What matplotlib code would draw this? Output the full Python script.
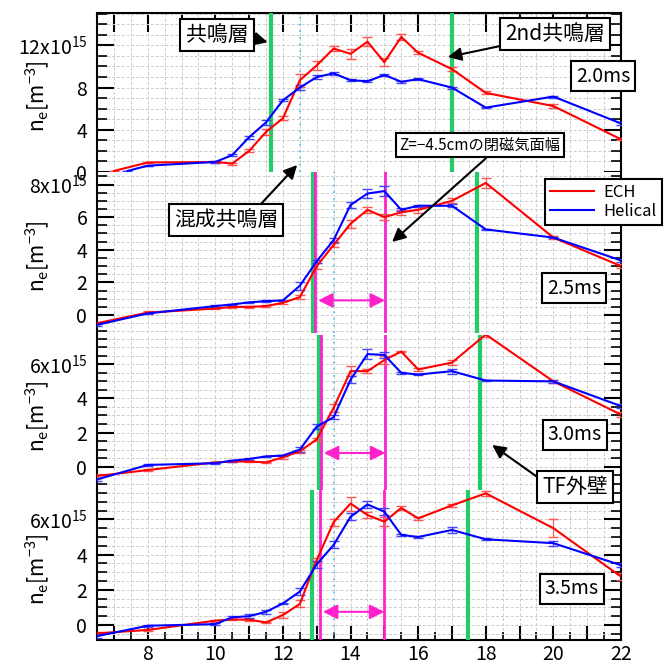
import numpy as np
import matplotlib
matplotlib.use("Agg")
import matplotlib.pyplot as plt
from matplotlib.lines import Line2D
from matplotlib.ticker import MultipleLocator, FixedLocator, FixedFormatter, FuncFormatter

plt.rcParams['font.family'] = ['Noto Sans CJK JP', 'DejaVu Sans']
plt.rcParams['mathtext.fontset'] = 'custom'
plt.rcParams['mathtext.rm'] = 'Noto Sans CJK JP'
plt.rcParams['mathtext.it'] = 'Noto Sans CJK JP'
plt.rcParams['mathtext.default'] = 'regular'

# radial position (cm)
r_pos = [6.5, 8, 10, 10.5, 11, 11.5, 12, 12.5, 13, 13.5, 14, 14.5, 15, 15.5, 16, 17, 18, 20, 22]
r_ech_20 = [7] + r_pos[1:]
r_hel_20 = [7.4] + r_pos[1:]

# density (10^15 m^-3)
ech_20 = [0.1, 0.9, 0.95, 0.8, 2.0, 3.8, 5.1, 8.7, 10.1, 11.7, 11.2, 12.35, 10.4, 12.8, 11.3, 9.75, 7.5, 6.25, 3.1]
hel_20 = [0.1, 0.6, 0.95, 1.6, 3.3, 4.7, 6.8, 8.0, 9.0, 9.35, 8.7, 8.6, 9.2, 8.55, 8.8, 8.0, 6.1, 7.15, 4.6]
ech_20_err = [0, 0.05, 0.05, 0.1, 0.15, 0.3, 0.2, 0.6, 0.4, 0.25, 0.45, 0.4, 0.4, 0.3, 0.15, 0.2, 0.15, 0.15, 0.1]
hel_20_err = [0, 0, 0.05, 0.1, 0.15, 0.2, 0.1, 0.2, 0.2, 0.15, 0.1, 0.1, 0.1, 0.1, 0.1, 0.1, 0.05, 0.1, 0.1]

ech_25 = [-0.5, 0.15, 0.4, 0.5, 0.5, 0.55, 0.75, 1.1, 3.0, 4.3, 5.6, 6.45, 6.0, 6.3, 6.45, 7.0, 8.1, 4.75, 3.0]
hel_25 = [-0.6, 0.1, 0.55, 0.65, 0.78, 0.85, 0.9, 1.8, 3.3, 4.6, 6.75, 7.45, 7.6, 6.45, 6.7, 6.7, 5.25, 4.75, 3.35]
ech_25_err = [0.05, 0.1, 0.05, 0.05, 0.05, 0.05, 0.1, 0.1, 0.2, 0.1, 0.25, 0.2, 0.2, 0.15, 0.2, 0.15, 0.3, 0.1, 0.1]
hel_25_err = [0.05, 0.05, 0.05, 0.05, 0.05, 0.05, 0.05, 0.25, 0.1, 0.1, 0.2, 0.3, 0.3, 0.1, 0.05, 0.1, 0.05, 0.05, 0.1]

ech_30 = [-0.55, -0.2, 0.25, 0.3, 0.3, 0.25, 0.55, 0.9, 1.6, 3.45, 5.6, 5.6, 6.25, 6.75, 5.7, 6.1, 7.75, 5.0, 3.05]
hel_30 = [-0.75, 0.1, 0.2, 0.35, 0.45, 0.6, 0.65, 1.0, 2.35, 2.9, 5.1, 6.6, 6.55, 5.5, 5.4, 5.6, 5.05, 5.0, 3.55]
ech_30_err = [0.1, 0.05, 0.05, 0.05, 0.05, 0.05, 0.1, 0.1, 0.1, 0.25, 0.3, 0.1, 0.25, 0.05, 0.1, 0.15, 0.15, 0.1, 0.15]
hel_30_err = [0.1, 0.05, 0.05, 0.05, 0.05, 0.05, 0.05, 0.15, 0.15, 0.1, 0.2, 0.3, 0.15, 0.05, 0.05, 0.15, 0.05, 0.1, 0.1]

ech_35 = [-0.47, -0.28, 0.25, 0.32, 0.3, 0.15, 0.57, 1.2, 3.7, 5.85, 6.9, 6.25, 5.87, 6.65, 6.06, 6.8, 7.48, 5.5, 2.75]
hel_35 = [-0.63, -0.04, 0.05, 0.44, 0.5, 0.75, 1.23, 1.9, 3.45, 4.55, 6.15, 6.85, 6.44, 5.12, 5.0, 5.4, 4.87, 4.65, 3.4]
ech_35_err = [0.1, 0.05, 0.05, 0.05, 0.05, 0.05, 0.15, 0.2, 0.1, 0.2, 0.4, 0.15, 0.25, 0.1, 0.1, 0.1, 0.15, 0.5, 0.2]
hel_35_err = [0.1, 0.05, 0.05, 0.1, 0.1, 0.1, 0.05, 0.2, 0.2, 0.2, 0.2, 0.2, 0.2, 0.05, 0.05, 0.15, 0.05, 0.15, 0.1]

time_labels = ['2.0ms', '2.5ms', '3.0ms', '3.5ms']
ylims = [(0, 15.07), (-1.1, 8.77), (-1.37, 7.72), (-0.85, 7.67)]
ymajor = [[0, 4, 8, 12], [0, 2, 4, 6, 8], [0, 2, 4, 6], [0, 2, 4, 6]]
yminor = [1, 0.5, 0.5, 0.5]

green_lines = [[11.65, 17.0], [12.9, 17.74], [13.06, 17.83], [12.87, 17.46]]
magenta_lines = [[], [12.96, 15.02], [13.13, 15.03], [13.1, 15.0]]
dotted_lines = [12.5, 13.5, 13.5, 13.5]
arrow_y = [None, 0.9, 0.8, 0.75]

panels = [
    (r_ech_20, ech_20, ech_20_err, r_hel_20, hel_20, hel_20_err),
    (r_pos, ech_25, ech_25_err, r_pos, hel_25, hel_25_err),
    (r_pos, ech_30, ech_30_err, r_pos, hel_30, hel_30_err),
    (r_pos, ech_35, ech_35_err, r_pos, hel_35, hel_35_err),
]

W, H = 669, 670
fig = plt.figure(figsize=(W / 100, H / 100), dpi=100)

def fp(px, py):
    return (px / W, 1 - py / H)

# panel boxes in pixels (top, bottom)
rows = [(13, 172), (172, 333), (335, 490), (490, 640)]
left, right = 97, 621

axes = []
for i, (top, bot) in enumerate(rows):
    ax = fig.add_axes([left / W, 1 - bot / H, (right - left) / W, (bot - top) / H])
    axes.append(ax)
    xe, ye, ee, xh, yh, eh = panels[i]
    ax.errorbar(xe, ye, yerr=ee, color='#ff0000', ecolor='#ff5555', lw=1.5, elinewidth=0.9,
                capsize=3.5, zorder=5)
    ax.errorbar(xh, yh, yerr=eh, color='#0000ff', ecolor='#4444ff', lw=1.5, elinewidth=0.9,
                capsize=3.5, zorder=5)

    ax.set_xlim(6.5, 22)
    ax.set_ylim(*ylims[i])

    for xv in green_lines[i]:
        ax.axvline(xv, color='#22cc66', lw=3, zorder=3)
    for xv in magenta_lines[i]:
        ax.axvline(xv, color='#ff22cc', lw=2, zorder=4)
    ax.axvline(dotted_lines[i], color='#55bbee', lw=1.2, ls=(0, (1, 3)), zorder=2)
    if arrow_y[i] is not None:
        ax.annotate('', xy=(magenta_lines[i][1], arrow_y[i]), xytext=(magenta_lines[i][0] + 0.08, arrow_y[i]),
                    arrowprops=dict(arrowstyle='<|-|>', color='#ff22cc', lw=1.5, mutation_scale=22,
                                    shrinkA=0, shrinkB=0), zorder=6)

    # axes styling
    ax.xaxis.set_major_locator(MultipleLocator(1))
    ax.xaxis.set_minor_locator(MultipleLocator(0.5))
    ax.xaxis.set_major_formatter(FuncFormatter(lambda v, p: '%d' % v if int(round(v)) % 2 == 0 else ''))
    ax.yaxis.set_major_locator(FixedLocator(ymajor[i]))
    labels = [str(v) for v in ymajor[i]]
    labels[-1] = '%dx10$^{15}$' % ymajor[i][-1]
    ax.yaxis.set_major_formatter(FixedFormatter(labels))
    ax.yaxis.set_minor_locator(MultipleLocator(yminor[i]))
    ax.grid(True, which='both', color='#cccccc', ls=(0, (3, 2)), lw=0.7)
    ax.set_axisbelow(True)

    ax.tick_params(axis='y', which='both', direction='in', left=True, right=True, labelsize=14, pad=7)
    ax.tick_params(axis='y', which='major', length=12, width=1.5)
    ax.tick_params(axis='y', which='minor', length=7, width=1.2)
    ax.tick_params(axis='x', which='both', direction='in', labelsize=14, pad=3)
    ax.tick_params(axis='x', which='major', length=10, width=1.5)
    ax.tick_params(axis='x', which='minor', length=6, width=1.2)
    for s in ['left', 'right', 'top', 'bottom']:
        ax.spines[s].set_linewidth(1.5)

    if i == 0:
        ax.spines['bottom'].set_visible(False)
        ax.tick_params(axis='x', which='both', bottom=False, top=True, labelbottom=False)
        ax.tick_params(axis='x', which='minor', top=False)
        ax.tick_params(axis='x', which='major', length=14)
    elif i == 3:
        ax.spines['top'].set_visible(False)
        ax.tick_params(axis='x', which='both', bottom=True, top=False, labelbottom=True)
    else:
        ax.spines['top'].set_visible(False)
        ax.spines['bottom'].set_visible(False)
        ax.tick_params(axis='x', which='both', bottom=False, top=False, labelbottom=False)

    cy = (top + bot) / 2 + 4
    fig.text(37 / W, 1 - cy / H, 'n$_{e}$[m$^{-3}$]', rotation=90, ha='center', va='center', fontsize=15)

ax1, ax2, ax3, ax4 = axes

# transparent overlay so boxes and arrows sit above every panel
over = fig.add_axes([0, 0, 1, 1], zorder=20)
over.set_axis_off()
over.patch.set_alpha(0)

box = dict(boxstyle='square,pad=0.25', fc='white', ec='black', lw=1.5)
arr = dict(arrowstyle='-|>', color='black', lw=1.5, mutation_scale=20, shrinkA=0, shrinkB=0)

# time labels
for (px, py), t in zip([(603, 76), (574, 288), (575, 435), (572, 589)], time_labels):
    over.text(*fp(px, py), t, transform=fig.transFigure, ha='center', va='center', fontsize=14, bbox=box)

def note(txt, ax, xy, pos, size, relpos):
    over.annotate(txt, xy=xy, xycoords=ax.transData, xytext=fp(*pos), textcoords='figure fraction',
                  ha='center', va='center', fontsize=size, bbox=box, annotation_clip=False,
                  arrowprops=dict(arr, relpos=relpos))

note('共鳴層', ax1, (11.55, 12.3), (217, 35), 15, (1, 0.4))
note('2nd共鳴層', ax1, (16.88, 10.9), (555, 34), 15, (0, 0))
note('混成共鳴層', ax1, (12.42, 0.66), (226, 220), 15, (0.79, 1))
note('Z=−4.5cmの閉磁気面幅', ax2, (15.23, 4.48), (480, 145), 11, (0.57, 0))
note('TF外壁', ax3, (18.19, 1.27), (575, 487), 15, (0, 0.8))

handles = [Line2D([], [], color='#ff0000', lw=1.5), Line2D([], [], color='#0000ff', lw=1.5)]
leg = over.legend(handles, ['ECH', 'Helical'], loc='upper right', bbox_to_anchor=fp(662, 179),
                  bbox_transform=fig.transFigure, fontsize=12, frameon=True, fancybox=False,
                  edgecolor='black', framealpha=1, handlelength=2.6, borderpad=0.3, labelspacing=0.1,
                  handletextpad=0.6, borderaxespad=0)
leg.get_frame().set_linewidth(1.5)

fig.savefig('out.png', dpi=100)
